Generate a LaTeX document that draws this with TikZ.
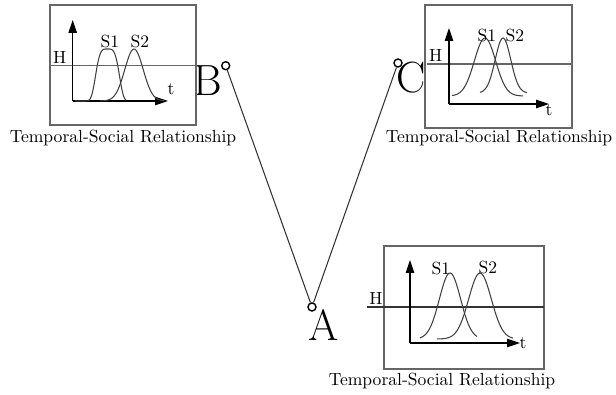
\documentclass[tikz,border=0pt]{standalone}
\usepackage{tikz}
\usetikzlibrary{arrows.meta, positioning}
\tikzset{
	panel/.style   ={draw=black!60, semithick},
	hline/.style   ={draw=black!60, semithick},
	curve/.style   ={draw=black!75, semithick, smooth},
	axis/.style    ={-{Triangle[length=2.6mm, width=1.7mm]}, semithick},
	pt/.style      ={circle, draw=black, thick, minimum size=1.6mm, inner sep=0pt},
	ptlbl/.style   ={font=\Huge, inner sep=0pt},
	caption/.style ={font=\normalsize, inner sep=1pt},
	link/.style    ={draw=black!80, semithick},
}
\begin{document}
\begin{tikzpicture}[x=0.02cm, y=-0.02cm]
	\useasboundingbox (0,0) rectangle (616,395);
	% points and links
	\node[pt] (ptB) at (225.7,65.7) {};
	\node[pt] (ptC) at (398,63) {};
	\node[pt] (ptA) at (312,307) {};
	\draw[link] (ptB) -- (ptA) -- (ptC);
	\node[ptlbl] (lblB) at (208,81) {B};
	\node[ptlbl] (lblC) at (411,78) {C};
	\node[ptlbl] (lblA) at (324,325) {A};

	% panel at B
	\draw[panel] (50,5) rectangle (196,125);
	\draw[hline] (50,65.7) -- (196,65.7);
	\node[anchor=south west, inner sep=1pt] (hB) at (51,65.7) {H};
	\draw[axis] (72.7,101) -- (72.7,20);
	\draw[axis] (72.7,101) -- (168,101);
	\node (tB) at (171,89) {t};
	\draw[curve] plot[domain=75:126, samples=60] (\x, {101-52*exp(-((\x-107.5)/13)^4)});
	\draw[curve] plot[domain=100:164, samples=60] (\x, {101-52*exp(-((\x-134)/13)^2)});
	\node (s1B) at (110,42) {S1};
	\node (s2B) at (140,42) {S2};
	\node[caption] (capB) at (123,138) {Temporal-Social Relationship};

	% panel at C
	\draw[panel] (425,5) rectangle (572,128);
	\draw[hline] (427,64) -- (572,64);
	\node[anchor=south west, inner sep=1pt] (hC) at (427,64) {H};
	\draw[axis] (449,104) -- (449,28);
	\draw[axis] (449,104) -- (549,104);
	\node (tC) at (549,110) {t};
	\draw[curve] plot[domain=452:523, samples=60] (\x, {96-58*exp(-((\x-485)/15)^2)});
	\draw[curve] plot[domain=480:527, samples=60] (\x, {93-55*exp(-((\x-503)/11)^2)});
	\node (s1C) at (487,36) {S1};
	\node (s2C) at (515,36) {S2};
	\node[caption] (capC) at (499,138) {Temporal-Social Relationship};

	% panel at A
	\draw[panel] (384,246) rectangle (544,369);
	\draw[draw=black!80, semithick] (367,307) -- (544,307);
	\node[anchor=south, inner sep=1pt] (hA) at (376,307) {H};
	\draw[axis] (410,343) -- (410,260);
	\draw[axis] (410,343) -- (520,343);
	\node (tA) at (523,343) {t};
	\draw[curve] plot[domain=420:477, samples=60] (\x, {339-66*exp(-((\x-450)/15)^2)});
	\draw[curve] plot[domain=437:513, samples=60] (\x, {339-66*exp(-((\x-480)/16)^2)});
	\node (s1A) at (441,269) {S1};
	\node (s2A) at (488,268) {S2};
	\node[caption] (capA) at (442,381) {Temporal-Social Relationship};
\end{tikzpicture}
\end{document}
